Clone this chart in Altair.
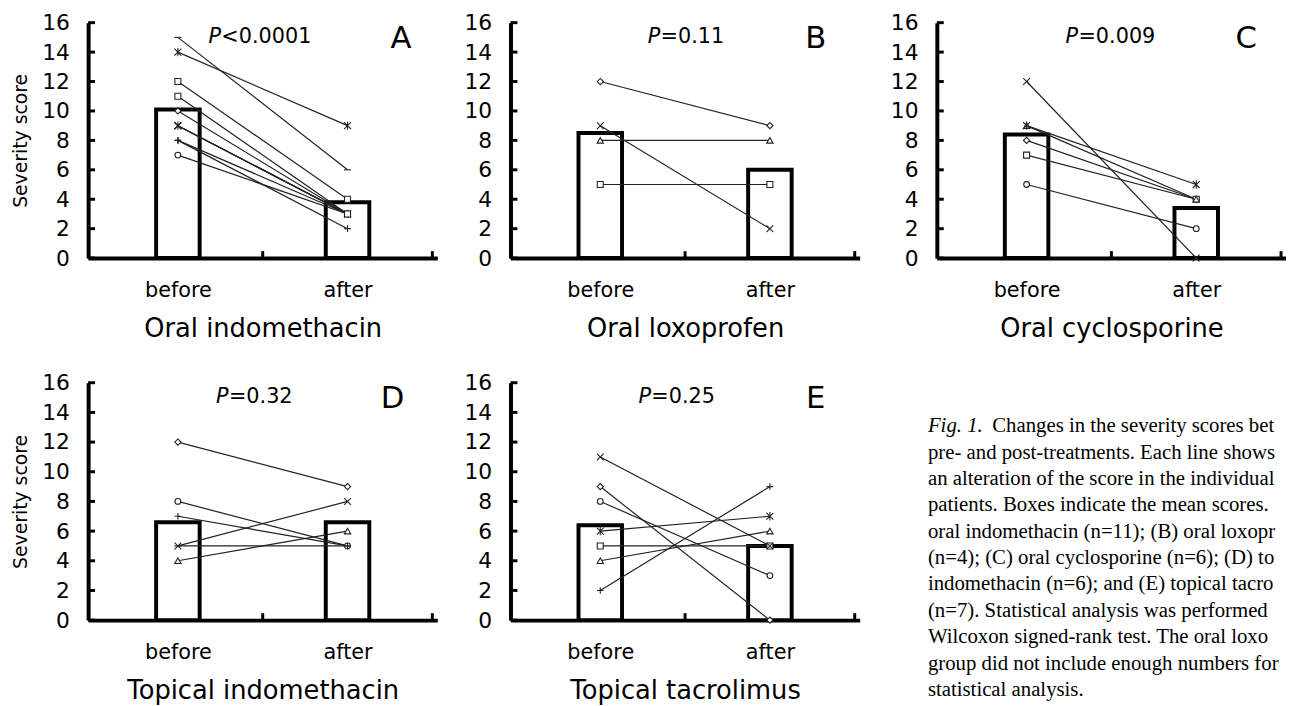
import altair as alt
import pandas as pd

FONT = "DejaVu Sans"
SERIF = "Liberation Serif"

categories = ["before", "after"]
panel_keys = ["A", "B", "C", "D", "E"]
panel_titles = ["Oral indomethacin", "Oral loxoprofen", "Oral cyclosporine",
                "Topical indomethacin", "Topical tacrolimus"]
p_values = ["<0.0001", "=0.11", "=0.009", "=0.32", "=0.25"]

# individual patients (before -> after) and their marker
A_before = [15, 14, 9, 9, 9, 10, 8, 8, 7, 12, 11]
A_after = [6, 9, 3, 3, 3, 3, 2, 3, 3, 4, 3]
A_marker = ["dash", "asterisk", "x", "x", "asterisk", "diamond", "plus", "plus", "circle", "square", "square"]

B_before = [12, 9, 8, 5]
B_after = [9, 2, 8, 5]
B_marker = ["diamond", "x", "triangle", "square"]

C_before = [12, 8, 7, 9, 9, 5]
C_after = [0, 4, 4, 4, 5, 2]
C_marker = ["x", "diamond", "square", "triangle", "asterisk", "circle"]

D_before = [12, 8, 7, 5, 5, 4]
D_after = [9, 5, 5, 5, 8, 6]
D_marker = ["diamond", "circle", "plus", "dash", "x", "triangle"]

E_before = [5, 11, 9, 8, 6, 4, 2]
E_after = [5, 5, 0, 3, 7, 6, 9]
E_marker = ["square", "x", "diamond", "circle", "asterisk", "triangle", "plus"]

# mean scores (boxes)
A_mean = [10.1, 3.8]
B_mean = [8.5, 6.0]
C_mean = [8.4, 3.4]
D_mean = [6.6, 6.6]
E_mean = [6.4, 5.0]

y_tick_values = [0, 2, 4, 6, 8, 10, 12, 14, 16]
x_tick_values = [2, 4]

caption_first_italic = "Fig. 1."
caption_lines = [
    "Changes in the severity scores between",
    "pre- and post-treatments. Each line shows",
    "an alteration of the score in the individual",
    "patients. Boxes indicate the mean scores. (A)",
    "oral indomethacin (n=11); (B) oral loxoprofen",
    "(n=4); (C) oral cyclosporine (n=6); (D) topical",
    "indomethacin (n=6); and (E) topical tacrolimus",
    "(n=7). Statistical analysis was performed using the",
    "Wilcoxon signed-rank test. The oral loxoprofen",
    "group did not include enough numbers for",
    "statistical analysis.",
]

marker_names = ["circle", "square", "diamond", "triangle", "plus", "x", "asterisk", "dash"]
marker_shapes = ["circle", "square", "diamond", "triangle-up",
                 "M-1,0L1,0M0,-1L0,1",
                 "M-1,-1L1,1M-1,1L1,-1",
                 "M-1,-1L1,1M-1,1L1,-1M0,-1.2L0,1.2",
                 "M-1,0L1,0"]
marker_sizes = [34, 52, 52, 44, 72, 90, 100, 30]

W = 353
POS = "datum.phase == 'before' ? 1 : 3"


def panel(idx, before, after, markers, mean, show_ytitle, pstart, lx, H):
    key = panel_keys[idx]
    rows = []
    for i, (b, a, m) in enumerate(zip(before, after, markers)):
        rows.append({"patient": i, "phase": "before", "score": b, "marker": m, "ord": i})
        rows.append({"patient": i, "phase": "after", "score": a, "marker": m, "ord": i})
    df = pd.DataFrame(rows)
    mdf = pd.DataFrame({"phase": categories, "score": mean})

    xscale = alt.Scale(domain=[0, 4], nice=False, zero=False)
    yscale = alt.Scale(domain=[0, 16], nice=False)
    xaxis = alt.Axis(values=[1, 3], labelExpr="datum.value == 1 ? 'before' : 'after'",
                     ticks=False, grid=False, domainWidth=4, domainColor="black",
                     labelFont=FONT, labelFontSize=21, labelColor="black", labelPadding=22,
                     title=panel_titles[idx], titleFont=FONT, titleFontSize=26,
                     titleFontWeight="normal", titleColor="black", titlePadding=15)
    yaxis = alt.Axis(values=y_tick_values, ticks=False, grid=False, domainWidth=4,
                     domainColor="black", labelFont=FONT, labelFontSize=22,
                     labelColor="black", labelPadding=19,
                     title="Severity score" if show_ytitle else None,
                     titleFont=FONT, titleFontSize=19, titleFontWeight="normal",
                     titleColor="black", titlePadding=11)
    X = lambda f: alt.X(f, scale=xscale, axis=xaxis)
    Y = lambda f: alt.Y(f, scale=yscale, axis=yaxis)

    bars = alt.Chart(mdf).transform_calculate(x=POS).mark_bar(
        size=44, fill="white", stroke="black", strokeWidth=4
    ).encode(x=X("x:Q"), y=Y("score:Q"))

    yt = alt.Chart(pd.DataFrame({"v": y_tick_values})).mark_rule(
        color="black", strokeWidth=3
    ).encode(y=Y("v:Q"), x=alt.value(0), x2=alt.value(7))

    xt = alt.Chart(pd.DataFrame({"v": x_tick_values})).mark_rule(
        color="black", strokeWidth=3
    ).encode(x=X("v:Q"), y=alt.value(H), y2=alt.value(H - 7))

    lines = alt.Chart(df).transform_calculate(x=POS).mark_line(
        color="#222222", strokeWidth=1.2
    ).encode(x=X("x:Q"), y=Y("score:Q"), detail="patient:N")

    pts = alt.Chart(df).transform_calculate(x=POS).mark_point(
        filled=True, fill="white", stroke="#222222", strokeWidth=1.1, opacity=1
    ).encode(
        x=X("x:Q"), y=Y("score:Q"),
        shape=alt.Shape("marker:N", scale=alt.Scale(domain=marker_names, range=marker_shapes), legend=None),
        size=alt.Size("marker:N", scale=alt.Scale(domain=marker_names, range=marker_sizes), legend=None),
        order="ord:Q",
    )

    tdf = pd.DataFrame({"x": [pstart], "y": [15.0], "p": ["P"], "rest": [p_values[idx]],
                        "lx": [lx], "ly": [14.9], "letter": [key]})
    p1 = alt.Chart(tdf).mark_text(font=FONT, fontSize=21, fontStyle="italic", align="left",
                                  baseline="middle", color="black").encode(
        x=X("x:Q"), y=Y("y:Q"), text="p:N")
    p2 = alt.Chart(tdf).mark_text(font=FONT, fontSize=21, align="left", baseline="middle",
                                  dx=13, color="black").encode(
        x=X("x:Q"), y=Y("y:Q"), text="rest:N")
    let = alt.Chart(tdf).mark_text(font=FONT, fontSize=31, align="center", baseline="middle",
                                   color="black").encode(
        x=X("lx:Q"), y=Y("ly:Q"), text="letter:N")

    return alt.layer(bars, yt, xt, lines, pts, p1, p2, let).properties(width=W, height=H)


pA = panel(0, A_before, A_after, A_marker, A_mean, True, 1.36, 3.63, 238)
pB = panel(1, B_before, B_after, B_marker, B_mean, False, 1.56, 3.54, 238)
pC = panel(2, C_before, C_after, C_marker, C_mean, False, 1.46, 3.59, 238)
pD = panel(3, D_before, D_after, D_marker, D_mean, True, 1.45, 3.53, 240)
pE = panel(4, E_before, E_after, E_marker, E_mean, False, 1.45, 3.54, 240)

cap_df = pd.DataFrame({"i": list(range(len(caption_lines))), "t": caption_lines})
cap_y = alt.Y("i:Q", scale=alt.Scale(domain=[0, 10], range=[50, 316.7]), axis=None)
cap_first = alt.Chart(cap_df).transform_filter("datum.i == 0").mark_text(
    font=SERIF, fontSize=21, fontStyle="italic", align="left", baseline="alphabetic", color="black"
).encode(x=alt.value(0), y=cap_y, text=alt.value(caption_first_italic))
cap_rest0 = alt.Chart(cap_df).transform_filter("datum.i == 0").mark_text(
    font=SERIF, fontSize=21, align="left", baseline="alphabetic", color="black",
    dx=65, limit=292, ellipsis=" "
).encode(x=alt.value(0), y=cap_y, text="t:N")
cap_rest = alt.Chart(cap_df).transform_filter("datum.i > 0").mark_text(
    font=SERIF, fontSize=21, align="left", baseline="alphabetic", color="black",
    limit=357, ellipsis=" "
).encode(x=alt.value(0), y=cap_y, text="t:N")
caption = alt.layer(cap_first, cap_rest0, cap_rest).properties(width=340, height=322)

row1 = alt.hconcat(alt.hconcat(pA, pB, spacing=27), pC, spacing=31)
row2 = alt.hconcat(alt.hconcat(pD, pE, spacing=27), caption, spacing=69)

chart = alt.vconcat(row1, row2, spacing=31).properties(
    padding={"left": 4, "top": 0, "right": 0, "bottom": 0},
    background="white",
).configure_view(stroke=None)

chart.save("out.html", embed_options={"renderer": "svg", "actions": False})
